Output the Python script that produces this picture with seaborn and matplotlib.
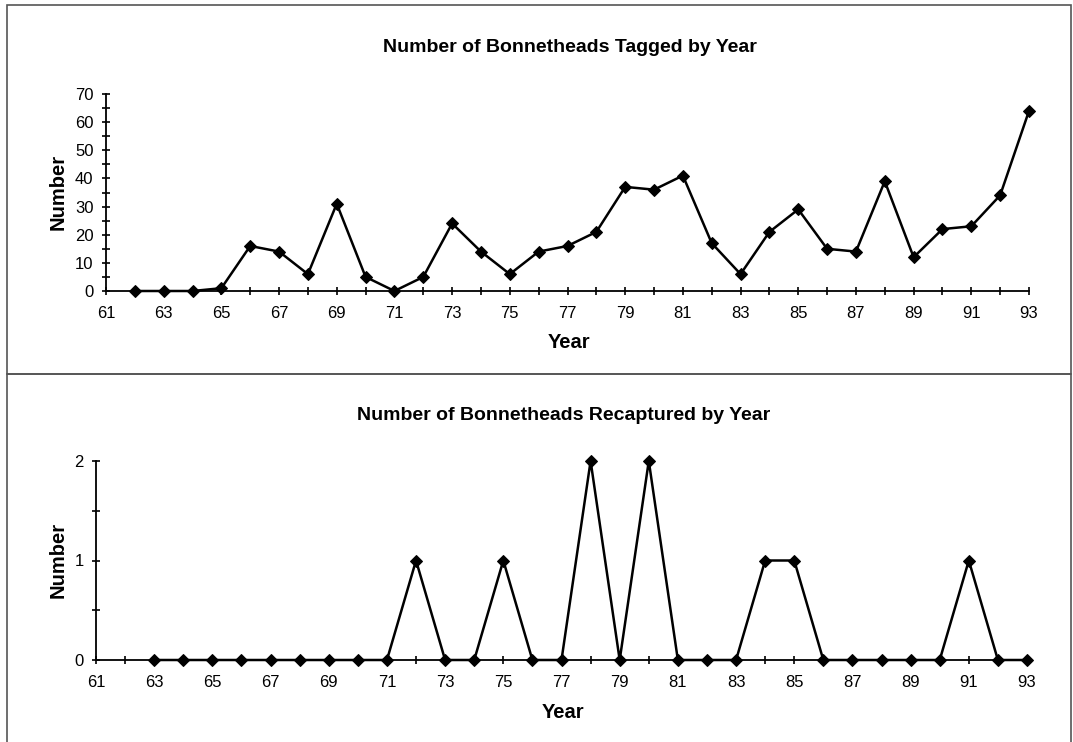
import matplotlib
matplotlib.use("Agg")
import matplotlib.pyplot as plt
from matplotlib.patches import Rectangle
from matplotlib.ticker import MultipleLocator
import pandas as pd
import seaborn as sns

# Annual bonnethead tagging counts (1962-1993)
tag_years = list(range(62, 94))
tagged = [0, 0, 0, 1, 16, 14, 6, 31, 5, 0, 5, 24, 14, 6, 14, 16,
          21, 37, 36, 41, 17, 6, 21, 29, 15, 14, 39, 12, 22, 23, 34, 64]

# Annual recaptures (1963-1993)
recap_years = list(range(63, 94))
recaptured = [0, 0, 0, 0, 0, 0, 0, 0, 0, 1, 0, 0, 1, 0, 0, 2,
              0, 2, 0, 0, 0, 1, 1, 0, 0, 0, 0, 0, 1, 0, 0]

x_tick_labels = [str(y) for y in range(61, 94, 2)]

sns.set_theme(style="ticks")
plt.rcParams["font.family"] = ["Liberation Sans", "DejaVu Sans"]

W, H = 1073, 742
fig = plt.figure(figsize=(W / 100, H / 100), dpi=100)


def fx(px):
    return px / W


def fy(py):
    return 1 - py / H


# Panel frames
for top, bottom in [(5, 374), (374, 745)]:
    fig.patches.append(Rectangle((fx(7), fy(bottom)), fx(1064), (bottom - top) / H,
                                 transform=fig.transFigure, fill=False,
                                 edgecolor="#555555", linewidth=1.2))

ax1 = fig.add_axes([fx(106), fy(291), fx(1029 - 106), (291 - 94) / H])
ax2 = fig.add_axes([fx(96), fy(660), fx(1027 - 96), (660 - 461) / H])

df1 = pd.DataFrame({"Year": tag_years, "Number": tagged})
df2 = pd.DataFrame({"Year": recap_years, "Number": recaptured})

for ax, df in [(ax1, df1), (ax2, df2)]:
    sns.lineplot(data=df, x="Year", y="Number", ax=ax, color="black",
                 linewidth=1.8, marker="D", markersize=6.5,
                 markeredgecolor="black", markerfacecolor="black")
    for ln in ax.lines:
        ln.set_clip_on(False)
    ax.set_xlim(61, 93)
    ax.xaxis.set_minor_locator(MultipleLocator(1))
    ax.set_xticks(list(range(61, 94, 2)))
    ax.set_xticklabels(x_tick_labels)
    sns.despine(ax=ax)
    for s in ("left", "bottom"):
        ax.spines[s].set_linewidth(1.3)
        ax.spines[s].set_color("black")
    ax.tick_params(axis="both", which="both", direction="inout", length=6,
                   width=1.2, color="black", labelsize=12, labelcolor="black")
    ax.tick_params(axis="x", which="major", pad=8)
    ax.tick_params(axis="y", which="major", pad=6)
    ax.set_xlabel("")
    ax.set_ylabel("")
    ax.set_facecolor("white")

ax1.set_ylim(0, 70)
ax1.yaxis.set_major_locator(MultipleLocator(10))
ax1.yaxis.set_minor_locator(MultipleLocator(5))

ax2.set_ylim(0, 2)
ax2.yaxis.set_major_locator(MultipleLocator(1))
ax2.yaxis.set_minor_locator(MultipleLocator(0.5))

bold = dict(fontweight="bold", color="black", ha="center", va="center")
fig.text(fx(570), fy(48), "Number of Bonnetheads Tagged by Year", fontsize=14, **bold)
fig.text(fx(569), fy(343), "Year", fontsize=14.5, **bold)
fig.text(fx(58), fy(192), "Number", fontsize=14.5, rotation=90, **bold)

fig.text(fx(564), fy(415), "Number of Bonnetheads Recaptured by Year", fontsize=14, **bold)
fig.text(fx(563), fy(713), "Year", fontsize=14.5, **bold)
fig.text(fx(58), fy(560), "Number", fontsize=14.5, rotation=90, **bold)

fig.savefig("out.png", dpi=100, facecolor="white")
